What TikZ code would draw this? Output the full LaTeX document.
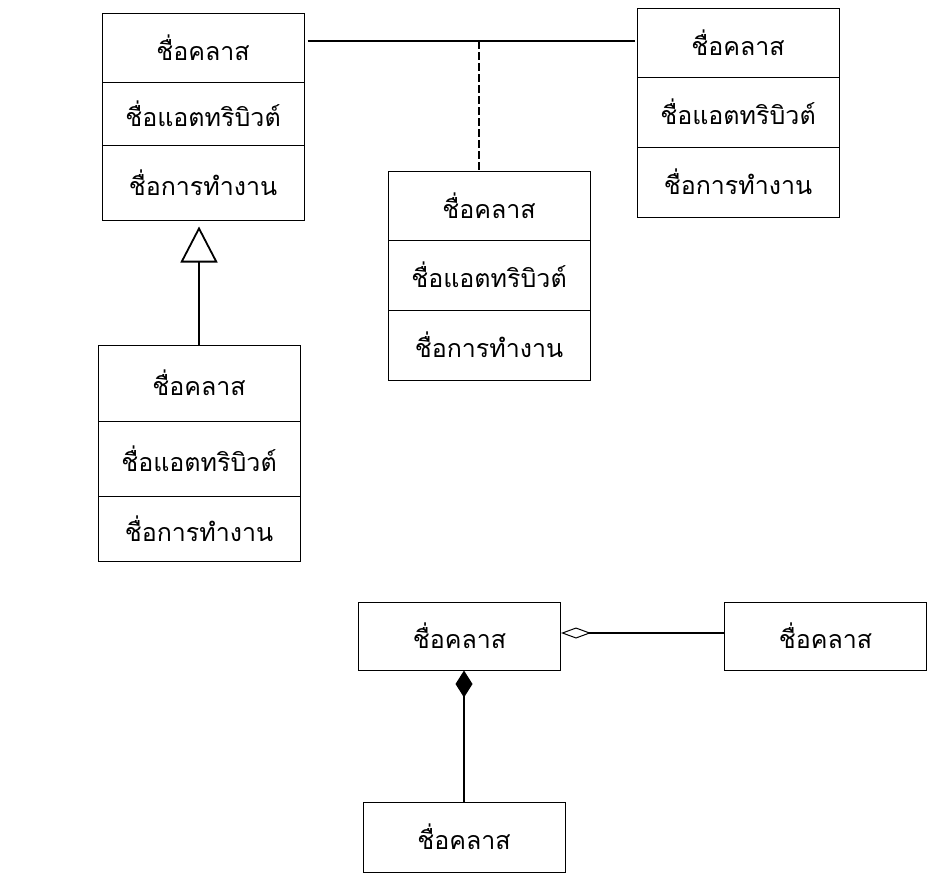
\documentclass[tikz,border=0pt]{standalone}
\usepackage{fontspec}
\newfontfamily\thaifont[Script=Thai]{Loma}
\usetikzlibrary{arrows.meta,calc}
\begin{document}
\begin{tikzpicture}[x=1pt, y=-1pt, font=\thaifont\fontsize{25}{29}\selectfont,
    cls/.style={draw, line width=1pt, minimum width=202pt, inner sep=0pt},
    link/.style={line width=1.8pt}]
  \useasboundingbox (0,0) rectangle (932,878);
  \node[cls, minimum height=69pt] (A1) at (203,47.5) {ชื่อคลาส};
  \node[cls, minimum height=63pt] (A2) at (203,113.5) {ชื่อแอตทริบิวต์};
  \node[cls, minimum height=75pt] (A3) at (203,182.5) {ชื่อการทำงาน};
  \node[cls, minimum height=69pt] (C1) at (738,42.5) {ชื่อคลาส};
  \node[cls, minimum height=70pt] (C2) at (738,112) {ชื่อแอตทริบิวต์};
  \node[cls, minimum height=70pt] (C3) at (738,182) {ชื่อการทำงาน};
  \node[cls, minimum height=69pt] (B1) at (489,205.5) {ชื่อคลาส};
  \node[cls, minimum height=70pt] (B2) at (489,275) {ชื่อแอตทริบิวต์};
  \node[cls, minimum height=70pt] (B3) at (489,345) {ชื่อการทำงาน};
  \node[cls, minimum height=76pt] (D1) at (199,383) {ชื่อคลาส};
  \node[cls, minimum height=75pt] (D2) at (199,458.5) {ชื่อแอตทริบิวต์};
  \node[cls, minimum height=65pt] (D3) at (199,528.5) {ชื่อการทำงาน};
  \node[cls, minimum height=68pt] (E1) at (459.5,636) {ชื่อคลาส};
  \node[cls, minimum height=68pt] (F1) at (825.5,636) {ชื่อคลาส};
  \node[cls, minimum height=70pt] (G1) at (464,837) {ชื่อคลาส};
  \draw[link] ($(A1.east |- C1.west)+(3,-1.5)$) -- ($(C1.west)+(-2,-1.5)$);
  \coordinate (dash) at ($(B1.north)+(-10,0)$);
  \draw[line width=1.3pt, dash pattern=on 8pt off 3pt] ($(dash |- C1.west)+(0,-1.5)$) -- (dash);
  \draw[link, -{Triangle[open, length=36pt, width=37pt]}, shorten >=6pt] (D1.north) -- (D1.north |- A3.south);
  \draw[link, -{Diamond[open, length=30pt, width=11pt, line width=1pt]}] ($(F1.west)+(0,-3)$) -- ($(E1.east)+(0,-3)$);
  \draw[link, -{Diamond[length=27pt, width=17pt]}] (G1.north) -- (G1.north |- E1.south);
\end{tikzpicture}
\end{document}
